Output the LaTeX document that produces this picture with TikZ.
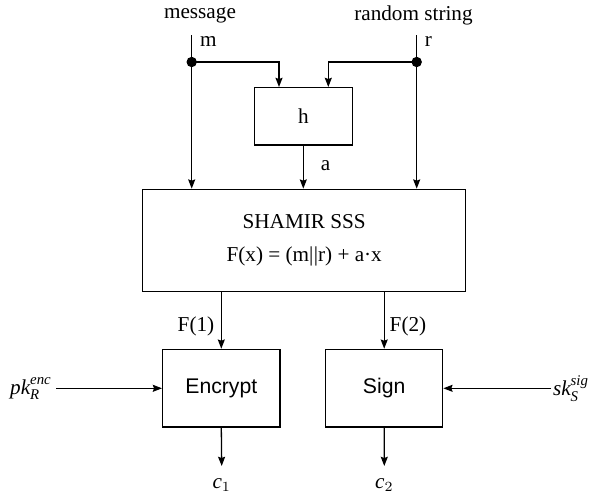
\documentclass[tikz,border=0pt]{standalone}
\usepackage{amsmath}
\usepackage{fontspec}
\setmainfont{Liberation Serif}
\setsansfont{Liberation Sans}
\usetikzlibrary{arrows.meta}

\begin{document}
\begin{tikzpicture}[x=0.5pt,y=-0.5pt,
  font=\fontsize{10.6}{12.5}\selectfont,
  line width=0.65pt,
  arr/.style={-{Stealth[length=4.6pt,width=3.5pt,inset=0.6pt]}},
  blk/.style={draw, rectangle, inner sep=0pt},
  joint/.style={circle, fill, inner sep=0pt, minimum size=5.2pt},
  lbl/.style={inner sep=0pt}]
\useasboundingbox (0,0) rectangle (590,494);

% input labels and line starts
\node[lbl] (msg) at (200,15) {message};
\node[lbl] (rnd) at (413.5,15) {random string};
\coordinate (mtop) at (191.7,35);
\coordinate (rtop) at (416.7,35);
\node[lbl] at (208.3,41.7) {m};
\node[lbl] at (428.5,41.7) {r};

% hash inputs
\coordinate (hinm) at (279,0);
\coordinate (hinr) at (328.3,0);

% blocks
\node[blk, minimum width=49pt, minimum height=28.65pt] (h) at (303.3,116.3) {h};
\node[blk, minimum width=161.5pt, minimum height=51.2pt, align=center,
      font=\fontsize{10.6}{16.7}\selectfont] (shamir) at (304.2,240.5)
      {SHAMIR SSS\\F(x) = (m|\kern0.02em|r) + a·x};
\node[blk, minimum width=58.65pt, minimum height=38.85pt, font=\sffamily\fontsize{10.6}{12.5}\selectfont]
      (enc) at (221.3,388.2) {Encrypt};
\node[blk, minimum width=58.5pt, minimum height=38.85pt, font=\sffamily\fontsize{10.6}{12.5}\selectfont]
      (sign) at (384.2,388.2) {Sign};

% key inputs and ciphertext outputs
\node[lbl] (pk) at (31,388.5) {$\textit{pk}^{\textit{enc}}_{\textit{R}}$};
\node[lbl] (sk) at (571,388.5) {$\textit{sk}^{\textit{sig}}_{\textit{S}}$};
\coordinate (pkend) at (56,388.3);
\coordinate (skend) at (551,388.3);
\node[lbl] (c1) at (221.7,485) {$\textit{c}_1$};
\node[lbl] (c2) at (384.3,485) {$\textit{c}_2$};
\coordinate (c1end) at (221.7,466);
\coordinate (c2end) at (384.3,466);

% connectors
\draw (mtop) -- (191.7,62) coordinate (mj);
\draw (rtop) -- (416.7,62) coordinate (rj);
\draw[arr] (mj) -- (mj |- shamir.north);
\draw[arr] (rj) -- (rj |- shamir.north);
\draw[arr] (mj) -| (hinm |- h.north);
\draw[arr] (rj) -| (hinr |- h.north);
\draw[arr] (h.south) -- (h.south |- shamir.north);
\node[lbl] at (325.7,165.7) {a};

% branch points
\node[joint] (mdot) at (mj) {};
\node[joint] (rdot) at (rj) {};

\draw[arr] (shamir.south -| enc.north) -- (enc.north);
\draw[arr] (shamir.south -| sign.north) -- (sign.north);
\node[lbl] at (196,326) {F(1)};
\node[lbl] at (408,326) {F(2)};

\draw[arr] (pkend) -- (enc.west |- pkend);
\draw[arr] (skend) -- (sign.east |- skend);
\draw[arr] (enc.south) -- (c1end);
\draw[arr] (sign.south) -- (c2end);
\end{tikzpicture}
\end{document}
